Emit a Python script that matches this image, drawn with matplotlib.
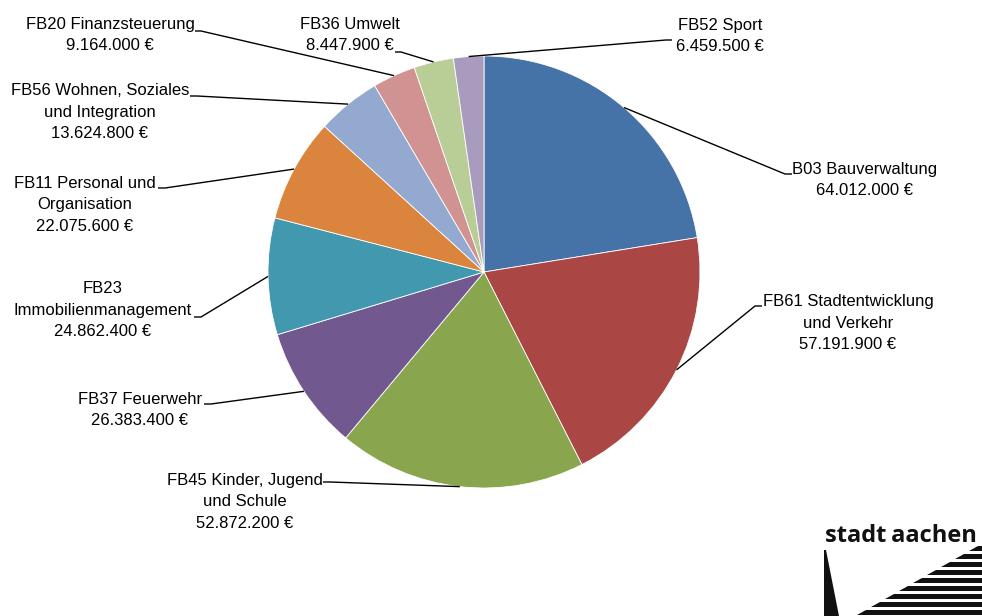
import numpy as np
import matplotlib.pyplot as plt
from matplotlib.patches import Polygon

# budget per department (euro), clockwise from the top
labels = ["B03 Bauverwaltung", "FB61 Stadtentwicklung\nund Verkehr", "FB45 Kinder, Jugend\nund Schule",
          "FB37 Feuerwehr", "FB23\nImmobilienmanagement", "FB11 Personal und\nOrganisation",
          "FB56 Wohnen, Soziales\nund Integration", "FB20 Finanzsteuerung", "FB36 Umwelt", "FB52 Sport"]
values = [64012000, 57191900, 52872200, 26383400, 24862400, 22075600, 13624800, 9164000, 8447900, 6459500]
colors = ["#4572A7", "#AA4643", "#89A54E", "#71588F", "#4198AF", "#DB843D",
          "#93A9CF", "#D19392", "#B9CD96", "#A99BBD"]

W, H = 982, 616
FONT = ["Liberation Sans Narrow", "Liberation Sans", "DejaVu Sans"]


def px(x, y):
    # picture pixel -> data coords (y up)
    return x, H - y


def euro(v):
    return f"{v:,}".replace(",", ".") + " €"


# text centres, leader end at the text and elbow (pixel positions)
text_pos = [(865, 180), (848, 323), (245, 502), (140, 410), (103, 310),
            (85, 205), (100, 112), (110, 35), (350, 35), (720, 36)]
leader_end = [(792, 174), (762, 306), (323, 482), (204, 404), (194, 317),
              (158, 188), (190, 96), (195, 31), (395, 52), (672, 40)]
leader_elbow = [(785, 174), (755, 306), (330, 482), (211, 404), (201, 317),
                (165, 188), (197, 96), (201, 31), (401, 52), (666, 40)]

fig = plt.figure(figsize=(W / 100, H / 100), dpi=100)
ax = fig.add_axes([0, 0, 1, 1])

cx, cy = px(484, 272)
R = 216
wedges, _ = ax.pie(values, colors=colors, startangle=90, counterclock=False,
                   center=(cx, cy), radius=R, frame=True,
                   wedgeprops=dict(edgecolor="white", linewidth=0.6))
ax.set_xlim(0, W)
ax.set_ylim(0, H)
ax.set_aspect("equal")
ax.axis("off")

for w, lab, v, tp, le, lb in zip(wedges, labels, values, text_pos, leader_end, leader_elbow):
    mid = np.deg2rad((w.theta1 + w.theta2) / 2)
    ex, ey = cx + R * np.cos(mid), cy + R * np.sin(mid)
    bx, by = px(*lb)
    tx, ty = px(*le)
    ax.plot([ex, bx, tx], [ey, by, ty], color="black", lw=1.0, solid_capstyle="butt")
    ax.text(*px(*tp), lab + "\n" + euro(v), ha="center", va="center", multialignment="center",
            fontsize=12, family=FONT, color="black", linespacing=1.55)

# stadt aachen logo
ax.text(*px(825, 542), "stadt\u2009aachen", ha="left", va="baseline", fontsize=17,
        fontweight="bold", family=["Open Sans", "DejaVu Sans"], color="#111111")
ax.add_patch(Polygon([px(824, 550), px(826, 550), px(839, 616), px(824, 616)],
                     closed=True, color="#111111", lw=0))
y = 546
while y < 616:
    xl = 978 - (y - 546) * 1.75
    ax.add_patch(Polygon([px(xl, y), px(W, y), px(W, y + 5), px(xl - 8.5, y + 5)],
                         closed=True, color="#111111", lw=0))
    y += 8

fig.savefig("out.png", dpi=100)
